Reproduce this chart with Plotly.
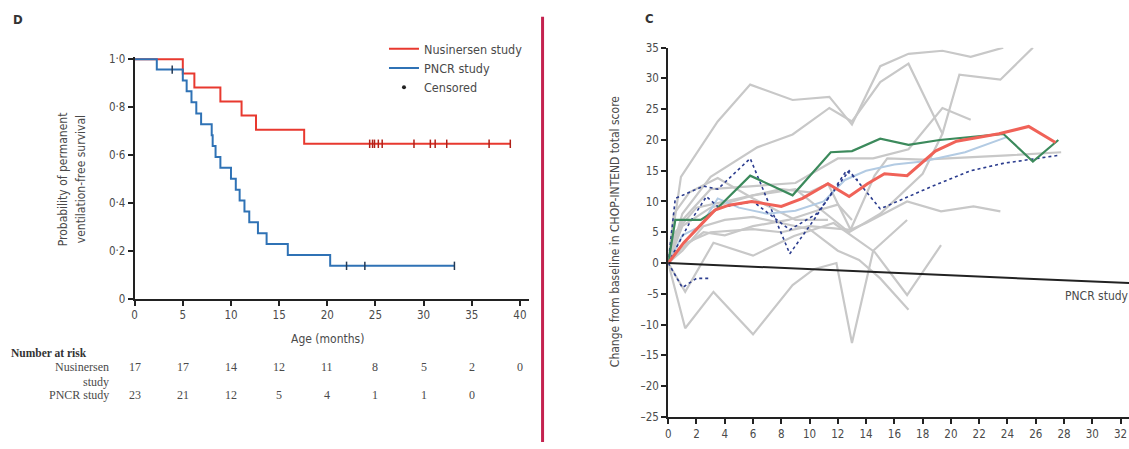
import plotly.graph_objects as go

W, H = 1129, 449

# ---------------- Panel D: Kaplan-Meier ----------------
nus_time = [0, 5.0, 6.2, 8.9, 11.1, 12.6, 17.6, 39.0]
nus_surv = [1.0, 0.941, 0.882, 0.824, 0.765, 0.706, 0.647, 0.647]
nus_cens_t = [24.4, 24.7, 24.9, 25.3, 25.7, 29.0, 30.7, 31.2, 32.4, 36.8, 39.0]
nus_cens_s = [0.647] * 11

pncr_time = [0, 2.3, 5.0, 5.4, 5.9, 6.4, 6.9, 8.0, 8.1, 8.4, 8.9, 10.0, 10.5, 10.9,
             11.4, 11.9, 12.8, 13.7, 15.9, 20.3, 33.2]
pncr_surv = [1.0, 0.957, 0.911, 0.866, 0.820, 0.774, 0.729, 0.683, 0.638, 0.592, 0.547,
             0.501, 0.455, 0.410, 0.364, 0.319, 0.273, 0.228, 0.182, 0.137, 0.137]
pncr_cens_t = [3.9, 22.0, 23.9, 33.2]
pncr_cens_s = [0.957, 0.137, 0.137, 0.137]

risk_times = [0, 5, 10, 15, 20, 25, 30, 35, 40]
risk_nus = [17, 17, 14, 12, 11, 8, 5, 2, 0]
risk_pncr = [23, 21, 12, 5, 4, 1, 1, 0]

km_xticks = [0, 5, 10, 15, 20, 25, 30, 35, 40]
km_yticks = [0, 0.2, 0.4, 0.6, 0.8, 1.0]
km_yticktext = ["0", "0·2", "0·4", "0·6", "0·8", "1·0"]

# ---------------- Panel C: CHOP-INTEND ----------------
grey_series = [
    ([0, 0.9, 3.5, 5.8, 8.8, 11.4, 13, 15, 17, 19.4, 21.4, 23.7],
     [0, 14, 23, 29, 26.5, 27, 22.5, 32, 34, 34.5, 33.5, 35]),
    ([0, 1, 3, 6.3, 8.8, 11.4, 13, 15, 17, 19.4],
     [0, 8, 14, 18.8, 20.9, 25.2, 23, 29.4, 32.4, 21]),
    ([0, 1, 3, 6, 9, 12.8, 15, 18, 19.4, 20.6, 23.5, 25.8],
     [0, 6, 9, 11, 12, 5, 8, 14.5, 21, 30.6, 29.8, 35]),
    ([0, 1, 3, 6, 9, 12, 14.5, 17, 19.4, 21.4],
     [0, 7, 12, 12.5, 13, 17, 17, 18.5, 25.2, 23.3]),
    ([0, 0.5, 2, 4, 6, 8, 10, 11.3, 12.9, 14.6, 15.5, 18, 24, 27.8],
     [0, 5, 9, 10, 11, 12, 11.5, 12.9, 5.4, 14.2, 17, 16.8, 17.5, 18]),
    ([0, 1, 3, 6, 8, 10, 12.9, 14, 16.9, 19.3, 21.6, 23.5],
     [0, 3, 5, 5.5, 5, 6, 5.4, 6.5, 10, 8.4, 9.2, 8.4]),
    ([0, 1.2, 3.2, 6, 8.8, 10.3, 11.9, 13, 14.5, 16.9],
     [0, -10.6, -4.7, -11.6, -3.6, -1, 0, -13, 2, 7]),
    ([0, 1.2, 3.2, 6, 8.9, 11.7, 14.6, 16.9, 19.3],
     [0, -4.7, 3.3, 1.2, 4.4, 6.5, 1.8, -5.2, 2.9]),
    ([0, 1, 2.5, 4, 6, 8, 10, 12, 13.5, 15, 17],
     [0, 2, 6, 7, 7.5, 6.5, 5.5, 2, 0.5, -2.5, -7.6]),
    ([0, 0.4, 1.5, 3.5, 6, 9, 11.3],
     [0, 8, 11.5, 13.8, 10.5, 7, 7]),
    ([0, 1, 2.5, 4, 6, 8.5, 10.5, 12, 13],
     [0, 2.5, 5, 4.5, 6, 7, 8.5, 9.5, 7]),
]
lightblue_x = [0, 1, 2.3, 3.5, 5, 7, 9, 11, 12.5, 14, 16, 18, 21, 24]
lightblue_y = [0, 4.5, 6, 10.5, 9, 8, 8.5, 10, 13.5, 15, 16, 16.5, 18, 20.5]

dotted_series = [
    ([0, 0.5, 2.5, 3.5, 5.8, 8.6, 10.3, 12.6, 13.4],
     [0, 10.5, 12.5, 12, 17, 1.5, 7, 15, 13.5]),
    ([0, 1.5, 2.7, 3.6, 6, 8.6, 10.5, 12.8, 15, 18.6, 21.4, 23.7, 27.6],
     [0, 6.5, 10.8, 9, 10, 5.4, 8, 15, 8.8, 12.4, 15, 16.2, 17.5]),
    ([0, 1, 2, 3],
     [0, -4, -2.5, -2.5]),
]

green_x = [0, 0.5, 2.3, 3.3, 5.8, 8.8, 11.5, 13, 15, 17, 19.2, 21.5, 23.7, 25.8, 27.6]
green_y = [0, 7, 7, 8.5, 14.2, 11, 18, 18.2, 20.2, 19.2, 20, 20.5, 21, 16.5, 20]

red_x = [0, 1.1, 2.3, 3.3, 4.3, 5.9, 8, 9.5, 11.3, 12.8, 14.1, 15.3, 16.9, 18.9, 20.4, 23.4, 25.5, 27.4]
red_y = [0, 3.3, 6.2, 8.6, 9.4, 10, 9.2, 10.5, 12.9, 10.8, 12.9, 14.5, 14.2, 18.2, 19.8, 21, 22.2, 19.6]

pncr_line_x = [0, 33]
pncr_line_y = [0, -3.3]

c_xticks = list(range(0, 33, 2))
c_yticks = list(range(-25, 36, 5))
c_yticktext = [str(v) if v >= 0 else "–" + str(-v) for v in c_yticks]

# ---------------- figure ----------------
RED = "#e8392f"
BLUE = "#2f72b5"
TXT = "#4a4a4a"
FONT = "Liberation Sans Narrow, DejaVu Sans Condensed, Liberation Sans, sans-serif"
SERIF = "Liberation Serif, DejaVu Serif, serif"

fig = go.Figure()


def px_x(p):
    return p / W


def px_y(p):
    return 1 - p / H


# KM curves
fig.add_trace(go.Scatter(x=nus_time, y=nus_surv, mode="lines", line=dict(color=RED, width=2, shape="hv"),
                         name="Nusinersen study", xaxis="x", yaxis="y", legendrank=1))
fig.add_trace(go.Scatter(x=pncr_time, y=pncr_surv, mode="lines", line=dict(color=BLUE, width=2, shape="hv"),
                         name="PNCR study", xaxis="x", yaxis="y", legendrank=2))
fig.add_trace(go.Scatter(x=nus_cens_t, y=nus_cens_s, mode="markers",
                         marker=dict(symbol="line-ns", size=6, line=dict(color="#b02018", width=1.5)),
                         showlegend=False, xaxis="x", yaxis="y", cliponaxis=False))
fig.add_trace(go.Scatter(x=pncr_cens_t, y=pncr_cens_s, mode="markers",
                         marker=dict(symbol="line-ns", size=6, line=dict(color="#233a55", width=1.5)),
                         showlegend=False, xaxis="x", yaxis="y", cliponaxis=False))
fig.add_trace(go.Scatter(x=[None], y=[None], mode="markers", marker=dict(color="#222", size=4),
                         name="Censored", xaxis="x", yaxis="y", legendrank=3))


def note(x, y, text, size=12, family=FONT, color=TXT, xanchor="center", xref="paper", yref="paper",
         angle=0):
    return dict(x=x, y=y, xref=xref, yref=yref, text=text, showarrow=False, xanchor=xanchor,
                yanchor="middle", textangle=angle, font=dict(family=family, size=size, color=color))


annotations = []
for t, n in zip(risk_times, risk_nus):
    annotations.append(note(t, px_y(372), str(n), size=12, family=SERIF, xref="x"))
for t, n in zip(risk_times, risk_pncr):
    annotations.append(note(t, px_y(401), str(n), size=12, family=SERIF, xref="x"))
annotations += [
    note(px_x(6), px_y(357), "<b>Number at risk</b>", size=11.5, family=SERIF, color="#333", xanchor="left"),
    note(px_x(108), px_y(372), "Nusinersen", size=12, family=SERIF, xanchor="right"),
    note(px_x(108), px_y(387), "study", size=12, family=SERIF, xanchor="right"),
    note(px_x(108), px_y(401), "PNCR study", size=12, family=SERIF, xanchor="right"),
    note(px_x(15), px_y(13), "<b>D</b>", size=13, color="#333"),
    note(px_x(648), px_y(12), "<b>C</b>", size=13, color="#333"),
    note(20, px_y(343), "Age (months)", size=12, xref="x"),
    note(px_x(61), px_y(178), "Probability of permanent", size=12, angle=-90),
    note(px_x(79), px_y(178), "ventilation-free survival", size=12, angle=-90),
    note(px_x(613), px_y(232), "Change from baseline in CHOP-INTEND total score", size=12, angle=-90),
    note(27.9, -5.4, "PNCR study", size=12, xanchor="left", xref="x2", yref="y2"),
]

# Panel C traces
for gx, gy in grey_series:
    fig.add_trace(go.Scatter(x=gx, y=gy, mode="lines", line=dict(color="#c8c8c8", width=2.2),
                             showlegend=False, xaxis="x2", yaxis="y2"))
fig.add_trace(go.Scatter(x=lightblue_x, y=lightblue_y, mode="lines", line=dict(color="#b3cbe3", width=2),
                         showlegend=False, xaxis="x2", yaxis="y2"))
for dx, dy in dotted_series:
    fig.add_trace(go.Scatter(x=dx, y=dy, mode="lines", line=dict(color="#2b3c8e", width=1.6, dash="dot"),
                             showlegend=False, xaxis="x2", yaxis="y2"))
fig.add_trace(go.Scatter(x=green_x, y=green_y, mode="lines", line=dict(color="#3c8a5c", width=2.2),
                         showlegend=False, xaxis="x2", yaxis="y2"))
fig.add_trace(go.Scatter(x=red_x, y=red_y, mode="lines", line=dict(color="#f06258", width=3),
                         showlegend=False, xaxis="x2", yaxis="y2"))
fig.add_trace(go.Scatter(x=pncr_line_x, y=pncr_line_y, mode="lines", line=dict(color="#222", width=2),
                         showlegend=False, xaxis="x2", yaxis="y2"))

axis_common = dict(showline=True, linecolor="#222", linewidth=2, ticks="outside", ticklen=5,
                   tickwidth=1.5, tickcolor="#222", showgrid=False, zeroline=False,
                   tickfont=dict(family=FONT, size=11.5, color=TXT))

fig.update_layout(
    width=W, height=H, margin=dict(l=0, r=0, t=0, b=0),
    paper_bgcolor="white", plot_bgcolor="white",
    xaxis=dict(domain=[px_x(132), px_x(527)], range=[0, 40.9], tickvals=km_xticks, anchor="y", **axis_common),
    yaxis=dict(domain=[px_y(301), px_y(52)], range=[0, 1.008], tickvals=km_yticks, ticktext=km_yticktext,
               anchor="x", **axis_common),
    xaxis2=dict(domain=[px_x(667), 1.0], range=[0, 32.6], tickvals=c_xticks, anchor="y2", **axis_common),
    yaxis2=dict(domain=[px_y(423), px_y(42)], range=[-25, 35], tickvals=c_yticks, ticktext=c_yticktext,
                anchor="x2", **axis_common),
    legend=dict(x=px_x(382), y=px_y(28), xanchor="left", yanchor="top", bgcolor="rgba(0,0,0,0)",
                font=dict(family=FONT, size=12.5, color=TXT), itemwidth=30, tracegroupgap=0,
                traceorder="normal"),
    annotations=annotations,
    shapes=[dict(type="line", xref="paper", yref="paper", x0=px_x(541), x1=px_x(541),
                 y0=px_y(10), y1=0, line=dict(color="#c4224f", width=3))],
)

fig.write_html("out.html")
